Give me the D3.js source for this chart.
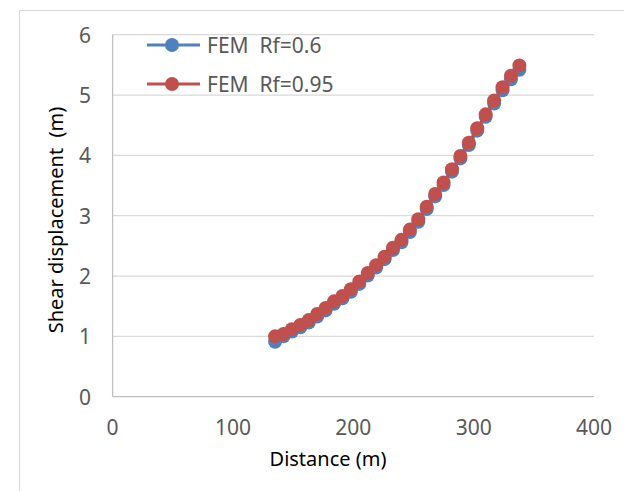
<!DOCTYPE html>
<html>
<head>
<meta charset="utf-8">
<script src="https://cdn.jsdelivr.net/npm/d3@7"></script>
<style>
  body { margin: 0; background: #fff; }
  text { font-family: "Noto Sans", "Open Sans", sans-serif; fill: #595959; white-space: pre; }
</style>
</head>
<body>
<svg width="624" height="491"></svg>
<script>
// distances (m)
var distance = [135, 142, 149, 156, 163, 170, 177, 184, 191, 198,
                205, 212, 219, 226, 233, 240, 247, 254, 261, 268,
                275, 282, 289, 296, 303, 310, 317, 324, 331, 338];
// FEM Rf=0.95
var rf095 = [1.00, 1.04, 1.12, 1.19, 1.27, 1.37, 1.47, 1.58, 1.67, 1.78,
             1.91, 2.05, 2.18, 2.32, 2.47, 2.60, 2.77, 2.94, 3.15, 3.36,
             3.55, 3.77, 3.99, 4.21, 4.45, 4.68, 4.91, 5.13, 5.32, 5.49];
// FEM Rf=0.6
var rf06 = [0.91, 1.00, 1.08, 1.15, 1.23, 1.33, 1.43, 1.54, 1.63, 1.74,
            1.87, 2.01, 2.14, 2.28, 2.43, 2.56, 2.73, 2.90, 3.11, 3.32,
            3.51, 3.73, 3.95, 4.17, 4.41, 4.64, 4.86, 5.08, 5.26, 5.42];

var xTicks = [0, 100, 200, 300, 400];
var yTicks = [0, 1, 2, 3, 4, 5, 6];

var series = [
  { name: 'FEM  Rf=0.6', color: '#4f81bd', values: rf06 },
  { name: 'FEM  Rf=0.95', color: '#c0504d', values: rf095 }
];

var svg = d3.select('svg');

// outer chart frame
svg.append('rect')
  .attr('x', 19.5).attr('y', 10.5)
  .attr('width', 700).attr('height', 600)
  .attr('fill', 'none').attr('stroke', '#d9d9d9');

var x = d3.scaleLinear().domain([0, 400]).range([112.6, 594]);
var y = d3.scaleLinear().domain([0, 6]).range([396.7, 34.7]);

// gridlines
svg.append('g').selectAll('line')
  .data(yTicks.filter(function(d){ return d > 0; }))
  .enter().append('line')
  .attr('x1', x(0)).attr('x2', x(400))
  .attr('y1', function(d){ return y(d); })
  .attr('y2', function(d){ return y(d); })
  .attr('stroke', '#d9d9d9').attr('stroke-width', 1.3);

// axes lines
svg.append('line')
  .attr('x1', x(0)).attr('x2', x(400)).attr('y1', y(0)).attr('y2', y(0))
  .attr('stroke', '#bfbfbf').attr('stroke-width', 1.3);
svg.append('line')
  .attr('x1', x(0)).attr('x2', x(0)).attr('y1', y(0)).attr('y2', y(6))
  .attr('stroke', '#bfbfbf').attr('stroke-width', 1.3);

// tick labels
svg.append('g').selectAll('text')
  .data(yTicks).enter().append('text')
  .attr('x', 91).attr('y', function(d){ return y(d) + 8; })
  .attr('text-anchor', 'end').attr('font-size', 21)
  .text(function(d){ return d; });

svg.append('g').selectAll('text')
  .data(xTicks).enter().append('text')
  .attr('x', function(d){ return x(d); }).attr('y', 435)
  .attr('text-anchor', 'middle').attr('font-size', 21)
  .text(function(d){ return d; });

// axis titles
svg.append('text')
  .attr('x', 328).attr('y', 466)
  .attr('text-anchor', 'middle').attr('font-size', 20).style('fill', '#000')
  .text('Distance (m)');

svg.append('text')
  .attr('transform', 'translate(63,220) rotate(-90)')
  .attr('text-anchor', 'middle').attr('font-size', 20).style('fill', '#000')
  .text('Shear displacement  (m)');

// series
var line = d3.line()
  .x(function(d, i){ return x(distance[i]); })
  .y(function(d){ return y(d); });

series.forEach(function(s){
  var g = svg.append('g');
  g.append('path')
    .attr('d', line(s.values))
    .attr('fill', 'none').attr('stroke', s.color).attr('stroke-width', 3);
  g.selectAll('circle')
    .data(s.values).enter().append('circle')
    .attr('cx', function(d, i){ return x(distance[i]); })
    .attr('cy', function(d){ return y(d); })
    .attr('r', 7)
    .attr('fill', s.color);
});

// legend
var legend = svg.append('g').selectAll('g')
  .data(series).enter().append('g')
  .attr('transform', function(d, i){ return 'translate(147,' + (45 + i * 39) + ')'; });
legend.append('line')
  .attr('x1', 0).attr('x2', 53)
  .attr('stroke', function(d){ return d.color; }).attr('stroke-width', 3);
legend.append('circle')
  .attr('cx', 25).attr('r', 7)
  .attr('fill', function(d){ return d.color; });
legend.append('text')
  .attr('x', 60).attr('y', 7.5)
  .attr('font-size', 21)
  .text(function(d){ return d.name; });
</script>
</body>
</html>
